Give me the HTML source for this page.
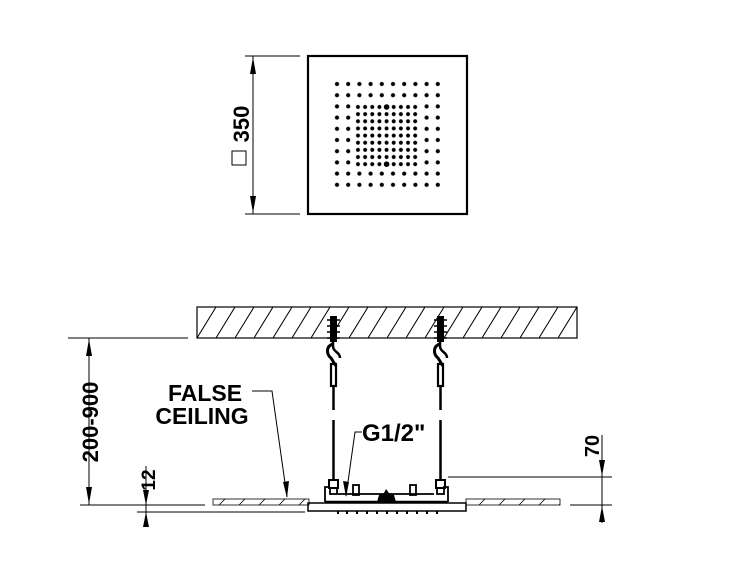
<!DOCTYPE html>
<html><head><meta charset="utf-8"><style>
html,body{margin:0;padding:0;background:#fff;}
svg{display:block;}
text{font-family:"Liberation Sans",Arial,sans-serif;fill:#000;font-weight:bold;}
</style></head><body>
<svg width="750" height="563" viewBox="0 0 750 563" xmlns="http://www.w3.org/2000/svg">
<defs>
<pattern id="h" patternUnits="userSpaceOnUse" width="19" height="31" x="197" y="307">
<line x1="0" y1="31" x2="19" y2="0" stroke="#000" stroke-width="1"/>
</pattern>
<pattern id="h2" patternUnits="userSpaceOnUse" width="20" height="6" x="213" y="499">
<line x1="6" y1="6" x2="12" y2="0" stroke="#000" stroke-width="0.8"/>
</pattern>
<pattern id="d1" patternUnits="userSpaceOnUse" width="11.2" height="11.2" x="331.4" y="78.4">
<circle cx="5.6" cy="5.6" r="2.1" fill="#000"/>
</pattern>
<pattern id="d2" patternUnits="userSpaceOnUse" width="7.15" height="7.15" x="354.4" y="103.4">
<circle cx="3.575" cy="3.575" r="2" fill="#000"/>
</pattern>
</defs>

<rect x="308" y="56" width="159" height="158" fill="none" stroke="#000" stroke-width="2.2"/>
<rect x="331.4" y="78.4" width="112" height="22.4" fill="url(#d1)"/>
<rect x="331.4" y="168" width="112" height="22.4" fill="url(#d1)"/>
<rect x="331.4" y="100.8" width="22.4" height="67.2" fill="url(#d1)"/>
<rect x="421" y="100.8" width="22.4" height="67.2" fill="url(#d1)"/>
<rect x="354.4" y="103.4" width="64.35" height="64.35" fill="url(#d2)"/>
<circle cx="386.6" cy="107" r="2.8" fill="#000"/>
<circle cx="386.6" cy="164.2" r="2.8" fill="#000"/>
<line x1="245" y1="56" x2="300" y2="56" stroke="#000" stroke-width="1"/>
<line x1="245" y1="214" x2="300" y2="214" stroke="#000" stroke-width="1"/>
<line x1="253" y1="56" x2="253" y2="214" stroke="#000" stroke-width="1"/>
<polygon points="253,57 250,74 256,74" fill="#000"/>
<polygon points="253,213 250,196 256,196" fill="#000"/>
<text transform="translate(249,124) rotate(-90)" text-anchor="middle" font-size="22">350</text>
<rect x="232" y="151" width="14" height="14" fill="none" stroke="#000" stroke-width="1"/>

<rect x="197" y="307" width="380" height="31" fill="url(#h)" stroke="#000" stroke-width="1.2"/>

<line x1="68" y1="338" x2="188" y2="338" stroke="#000" stroke-width="1"/>
<line x1="80" y1="505" x2="205" y2="505" stroke="#000" stroke-width="1"/>
<line x1="89" y1="338" x2="89" y2="505" stroke="#000" stroke-width="1"/>
<polygon points="89,339 86,356 92,356" fill="#000"/>
<polygon points="89,504 86,487 92,487" fill="#000"/>
<text transform="translate(98,422) rotate(-90)" text-anchor="middle" font-size="22">200-900</text>

<line x1="137" y1="512" x2="305" y2="512" stroke="#000" stroke-width="1"/>
<line x1="146" y1="466" x2="146" y2="525" stroke="#000" stroke-width="1"/>
<polygon points="146,505 143,490 149,490" fill="#000"/>
<polygon points="146,512 143,527 149,527" fill="#000"/>
<text transform="translate(155,480) rotate(-90)" text-anchor="middle" font-size="19">12</text>

<text x="205" y="401" text-anchor="middle" font-size="23">FALSE</text>
<text x="202" y="424" text-anchor="middle" font-size="23">CEILING</text>
<polyline points="252,391 272,391 287,497" fill="none" stroke="#000" stroke-width="1"/>
<polygon points="287,498 283,482 289,481" fill="#000"/>

<rect x="213" y="499" width="96" height="6" fill="url(#h2)" stroke="#000" stroke-width="0.8"/>
<rect x="466" y="499" width="94" height="6" fill="url(#h2)" stroke="#000" stroke-width="0.8"/>

<g stroke="#000" fill="none">
<g id="hg1">
<rect x="330" y="316" width="7" height="26" fill="#000" stroke="none"/>
<line x1="327" y1="320" x2="340" y2="320" stroke-width="1.5"/>
<line x1="327" y1="326" x2="340" y2="326" stroke-width="1.5"/>
<line x1="327" y1="332" x2="340" y2="332" stroke-width="1.5"/>
<line x1="327" y1="338" x2="340" y2="338" stroke-width="1.5"/>
<path d="M333,342 L333,346 C333,352 340,352 340,358" stroke-width="2.5"/>
<path d="M333,344 C326,346 326,354 331,358 L336,366" stroke-width="3"/>
<rect x="331" y="364" width="5" height="22" stroke-width="2.2"/>
<line x1="333.5" y1="386" x2="333.5" y2="410" stroke-width="2.5"/>
<line x1="333.5" y1="420" x2="333.5" y2="480" stroke-width="2.5"/>
<rect x="329" y="480" width="9" height="8" stroke-width="2"/>
<rect x="330" y="488" width="7" height="6" stroke-width="1.8"/>
</g>
<use href="#hg1" x="107"/>
</g>

<g stroke="#000" fill="none" stroke-width="1.8">
<path d="M325,502 L325,487 L330,487"/>
<path d="M448,502 L448,487 L443,487"/>
<line x1="325" y1="502" x2="448" y2="502" stroke-width="2.5"/>
<line x1="338" y1="494" x2="434" y2="494"/>
<rect x="353" y="485" width="6" height="10"/>
<rect x="410" y="485" width="6" height="10"/>
<rect x="308" y="503" width="158" height="8" stroke-width="1.5"/>
</g>
<path d="M377,502 L379,495 L384,493 L386,489 L389,493 L394,495 L396,502 Z" fill="#000"/>
<g fill="#000">
<rect x="337" y="511" width="2" height="3"/><rect x="346" y="511" width="2" height="3"/><rect x="356" y="511" width="2" height="3"/><rect x="366" y="511" width="2" height="3"/><rect x="376" y="511" width="2" height="3"/><rect x="386" y="511" width="2" height="3"/><rect x="396" y="511" width="2" height="3"/><rect x="406" y="511" width="2" height="3"/><rect x="416" y="511" width="2" height="3"/><rect x="426" y="511" width="2" height="3"/><rect x="436" y="511" width="2" height="3"/>
</g>

<text x="362" y="441" font-size="24">G1/2"</text>
<polyline points="362,432 355,432 346,496" fill="none" stroke="#000" stroke-width="1"/>
<polygon points="346,497 343,481 349,482" fill="#000"/>

<line x1="448" y1="477" x2="612" y2="477" stroke="#000" stroke-width="1"/>
<line x1="570" y1="505" x2="612" y2="505" stroke="#000" stroke-width="1"/>
<line x1="602" y1="435" x2="602" y2="523" stroke="#000" stroke-width="1"/>
<polygon points="602,476 599,460 605,460" fill="#000"/>
<polygon points="602,506 599,522 605,522" fill="#000"/>
<text transform="translate(599,446) rotate(-90)" text-anchor="middle" font-size="20">70</text>
</svg>
</body></html>
